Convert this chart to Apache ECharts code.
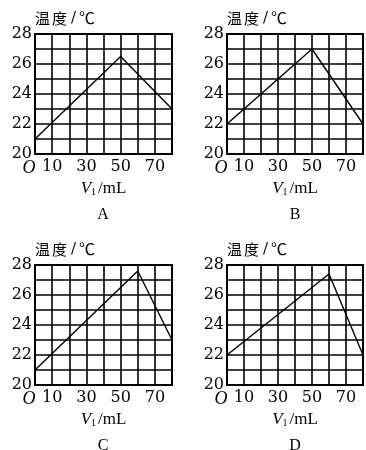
<!DOCTYPE html>
<html>
<head>
<meta charset="utf-8">
<title></title>
<script src="https://cdn.jsdelivr.net/npm/echarts@6/dist/echarts.min.js"></script>
</head>
<body style="margin:0;background:#fff">
<div id="main" style="width:366px;height:450px"></div>
<script type="text/javascript">
// 四个小图的数据 (V1/mL, 温度/℃)
var panels = ['A', 'B', 'C', 'D'];
var xA = [0, 50, 80], yA = [21, 26.5, 23];
var xB = [0, 50, 80], yB = [22, 27, 22];
var xC = [0, 60, 80], yC = [21, 27.6, 23];
var xD = [0, 60, 80], yD = [22, 27.4, 22];
var xLabels = [10, 30, 50, 70];
var yLabels = [20, 22, 24, 26, 28];
var yName = '{a|温}{a|度}{b|/}{c|℃}';

var allX = [xA, xB, xC, xD];
var allY = [yA, yB, yC, yD];

var lefts = [35, 227, 35, 227];
var tops = [34, 34, 265, 265];
var serif = '"DejaVu Serif"';
var cjk = '"Noto Sans CJK SC"';

var myChart = echarts.init(document.getElementById('main'));

var grids = [], xAxes = [], yAxes = [], series = [], graphics = [];
for (var i = 0; i < 4; i++) {
  grids.push({ left: lefts[i], top: tops[i], width: 137, height: 120, show: true, borderColor: '#000', borderWidth: 2 });
  xAxes.push({
    type: 'value', gridIndex: i, min: 0, max: 80, interval: 10,
    axisLine: { show: true, lineStyle: { color: '#000', width: 2 } },
    axisTick: { show: false },
    splitLine: { show: true, lineStyle: { color: '#000', width: 1.6 } },
    axisLabel: {
      margin: 5, color: '#000', fontFamily: serif, fontSize: 16,
      formatter: function (v) {
        if (v === 0) return '{o|O}';
        return xLabels.indexOf(v) >= 0 ? String(v) : '';
      },
      rich: { o: { fontStyle: 'italic', fontFamily: '"Liberation Serif"', fontSize: 18, color: '#000', padding: [0, 12, 0, 0] } }
    },
    name: '{v|V}{s|1}{t|/mL}',
    nameLocation: 'middle', nameGap: 26,
    nameTextStyle: {
      rich: {
        v: { fontStyle: 'italic', fontFamily: '"Liberation Serif"', fontSize: 17, color: '#000' },
        s: { fontFamily: '"Liberation Serif"', fontSize: 10, color: '#000', verticalAlign: 'bottom', padding: [6, 2, 0, 0] },
        t: { fontFamily: '"Liberation Serif"', fontSize: 17, color: '#000' }
      }
    }
  });
  yAxes.push({
    type: 'value', gridIndex: i, min: 20, max: 28, interval: 1,
    axisLine: { show: true, lineStyle: { color: '#000', width: 2 } },
    axisTick: { show: false },
    splitLine: { show: true, lineStyle: { color: '#000', width: 1.6 } },
    axisLabel: {
      margin: 3, color: '#000', fontFamily: serif, fontSize: 16,
      formatter: function (v) { return yLabels.indexOf(v) >= 0 ? String(v) : ''; }
    },
    name: yName, nameLocation: 'end', nameGap: 3,
    nameTextStyle: {
      align: 'left', verticalAlign: 'bottom',
      rich: {
        a: { fontFamily: cjk, fontSize: 15, color: '#000', padding: [0, 2, 0, 0] },
        b: { fontFamily: serif, fontSize: 15, color: '#000', padding: [0, 3, 0, 2] },
        c: { fontFamily: cjk, fontSize: 16, color: '#000' }
      }
    }
  });
  var pts = [];
  for (var j = 0; j < allX[i].length; j++) pts.push([allX[i][j], allY[i][j]]);
  series.push({
    type: 'line', xAxisIndex: i, yAxisIndex: i, data: pts,
    showSymbol: false, silent: true, z: 5,
    lineStyle: { color: '#000', width: 1.4 }
  });
  graphics.push({
    type: 'text', x: lefts[i] + 68, y: tops[i] + 181,
    style: { text: panels[i], fill: '#000', font: '16px "Liberation Serif"', textAlign: 'center', textVerticalAlign: 'middle' }
  });
}

var option = {
  backgroundColor: '#fff',
  animation: false,
  grid: grids,
  xAxis: xAxes,
  yAxis: yAxes,
  series: series,
  graphic: graphics
};
myChart.setOption(option);
</script>
</body>
</html>
